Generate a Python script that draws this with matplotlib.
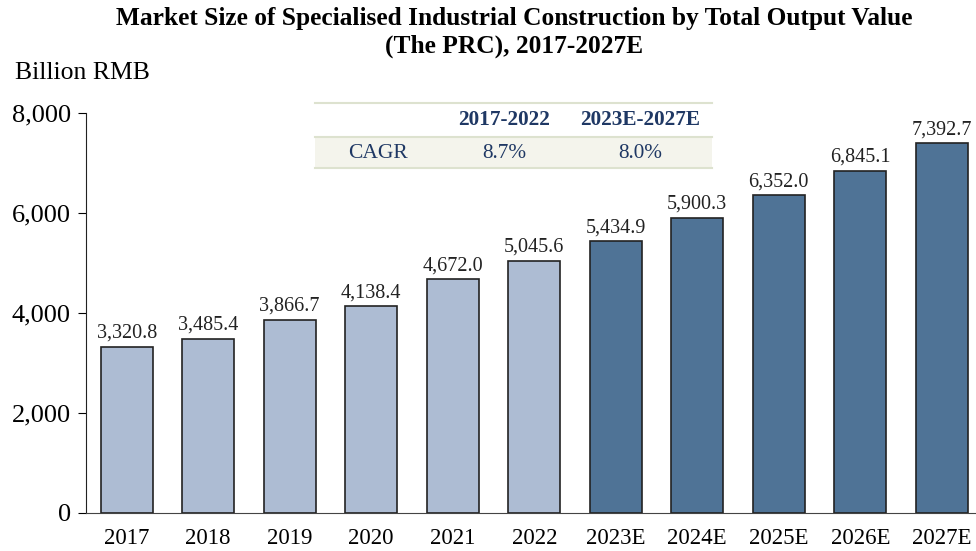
import matplotlib.pyplot as plt
from matplotlib.patches import Rectangle
from matplotlib.lines import Line2D

plt.rcParams['font.family'] = ['Liberation Serif', 'DejaVu Serif']

years = ["2017", "2018", "2019", "2020", "2021", "2022",
         "2023E", "2024E", "2025E", "2026E", "2027E"]
values = [3320.8, 3485.4, 3866.7, 4138.4, 4672.0, 5045.6,
          5434.9, 5900.3, 6352.0, 6845.1, 7392.7]
periods = ["2017-2022", "2023E-2027E"]
cagr = ["8.7%", "8.0%"]

light = "#adbcd3"
dark = "#4f7396"
navy = "#1f3864"
colors = [light if not y.endswith("E") else dark for y in years]

fig = plt.figure(figsize=(9.76, 5.51), dpi=100)
ax = fig.add_axes([0.0881, 0.069, 0.9119, 0.726])

x = list(range(len(years)))
ax.bar(x, values, width=0.64, color=colors, edgecolor="#222222", linewidth=1.2, zorder=2)
for xi, v in zip(x, values):
    ax.text(xi, v + 80, f"{v:,.1f}", ha="center", va="bottom", fontsize=14.5, color="#222222")

ax.set_ylim(0, 8000)
ax.set_xlim(-0.5, 10.42)
ax.set_yticks([0, 2000, 4000, 6000, 8000])
ax.set_yticklabels([f"{t:,}" for t in [0, 2000, 4000, 6000, 8000]], fontsize=19)
ax.set_xticks(x)
ax.set_xticklabels(years, fontsize=16.5)
ax.tick_params(axis="x", length=0, pad=11)
ax.tick_params(axis="y", length=6, direction="out", pad=5)
for s in ["top", "right"]:
    ax.spines[s].set_visible(False)
ax.spines["left"].set_color("#222222")
ax.spines["bottom"].set_color("#444444")

fig.text(0.527, 1 - 19 / 551, "Market Size of Specialised Industrial Construction by Total Output Value",
         ha="center", va="center", fontsize=18.3, fontweight="bold")
fig.text(0.527, 1 - 46 / 551, "(The PRC), 2017-2027E",
         ha="center", va="center", fontsize=18.3, fontweight="bold")
fig.text(0.015, 1 - 73 / 551, "Billion RMB", ha="left", va="center", fontsize=18.5)

# CAGR table
tx0, tx1 = 315 / 976, 712 / 976
ytop, ymid, ybot = 1 - 103 / 551, 1 - 137 / 551, 1 - 168 / 551
fig.patches.append(Rectangle((tx0, ybot), tx1 - tx0, ymid - ybot, transform=fig.transFigure,
                             facecolor="#f4f4ec", edgecolor="none", zorder=3))
for yy in (ytop, ymid, ybot):
    fig.lines.append(Line2D([tx0, tx1], [yy, yy], transform=fig.transFigure,
                            color="#dde2cf", linewidth=1.5, zorder=4))
col_x = [504 / 976, 640 / 976]
fig.text(378 / 976, 1 - 153 / 551, "CAGR", ha="center", va="center", fontsize=15.5, color=navy)
for cx, p, c in zip(col_x, periods, cagr):
    fig.text(cx, 1 - 120 / 551, p, ha="center", va="center", fontsize=15.3,
             fontweight="bold", color=navy)
    fig.text(cx, 1 - 153 / 551, c, ha="center", va="center", fontsize=15.3, color=navy)

fig.savefig("out.png", dpi=100)
